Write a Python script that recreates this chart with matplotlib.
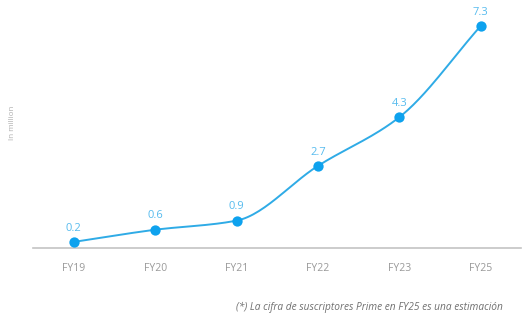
import numpy as np
import matplotlib
matplotlib.use("Agg")
import matplotlib.pyplot as plt

plt.rcParams['font.family'] = ['Open Sans', 'DejaVu Sans']

years = ["FY19", "FY20", "FY21", "FY22", "FY23", "FY25"]
subs = [0.2, 0.6, 0.9, 2.7, 4.3, 7.3]
labels = ["0.2", "0.6", "0.9", "2.7", "4.3", "7.3"]

line_col = "#2fabe6"
dot_col = "#0ea2ee"
lab_col = "#56bbee"


def smooth(x, y, n=30):
    # monotone cubic (Fritsch-Carlson) just for drawing the curve
    x = np.asarray(x, float)
    y = np.asarray(y, float)
    h = np.diff(x)
    d = np.diff(y) / h
    m = np.zeros_like(y)
    m[0], m[-1] = d[0], d[-1]
    for i in range(1, len(y) - 1):
        if d[i - 1] * d[i] > 0:
            m[i] = 2 / (1 / d[i - 1] + 1 / d[i])
    xs, ys = [], []
    for i in range(len(h)):
        t = np.linspace(0, 1, n)
        h00 = 2*t**3 - 3*t**2 + 1
        h10 = t**3 - 2*t**2 + t
        h01 = -2*t**3 + 3*t**2
        h11 = t**3 - t**2
        xs.append(x[i] + t*h[i])
        ys.append(h00*y[i] + h10*h[i]*m[i] + h01*y[i+1] + h11*h[i]*m[i+1])
    return np.concatenate(xs), np.concatenate(ys)


fig = plt.figure(figsize=(5.25, 3.2), dpi=100)
ax = fig.add_axes([0.063, 0.225, 0.93, 0.744])

x = np.arange(len(years))
sx, sy = smooth(x, subs)
ax.plot(sx, sy, color=line_col, linewidth=1.4, zorder=2)
ax.scatter(x, subs, s=55, color=dot_col, zorder=3, linewidths=0)
for xi, v, t in zip(x, subs, labels):
    ax.annotate(t, (xi, v), xytext=(0, 6), textcoords="offset points",
                ha="center", va="bottom", color=lab_col, fontsize=8)

ax.set_xlim(-0.5, 5.5)
ax.set_ylim(0, 7.83)
ax.set_xticks(x)
ax.set_xticklabels(years)
ax.set_yticks([])
ax.tick_params(axis="x", length=0, pad=11, labelsize=7.5, labelcolor="#999999")
for s in ["top", "right", "left"]:
    ax.spines[s].set_visible(False)
ax.spines["bottom"].set_color("#c4c4c4")
ax.spines["bottom"].set_linewidth(1.2)

fig.text(0.023, 0.615, "In million", rotation=90, ha="center", va="center",
         fontsize=5.8, color="#b0b0b0")
fig.text(0.45, 0.04, "(*) La cifra de suscriptores Prime en FY25 es una estimación",
         ha="left", va="center", fontsize=7.3, style="italic", color="#6f6f6f")

fig.savefig("out.png", dpi=100)
